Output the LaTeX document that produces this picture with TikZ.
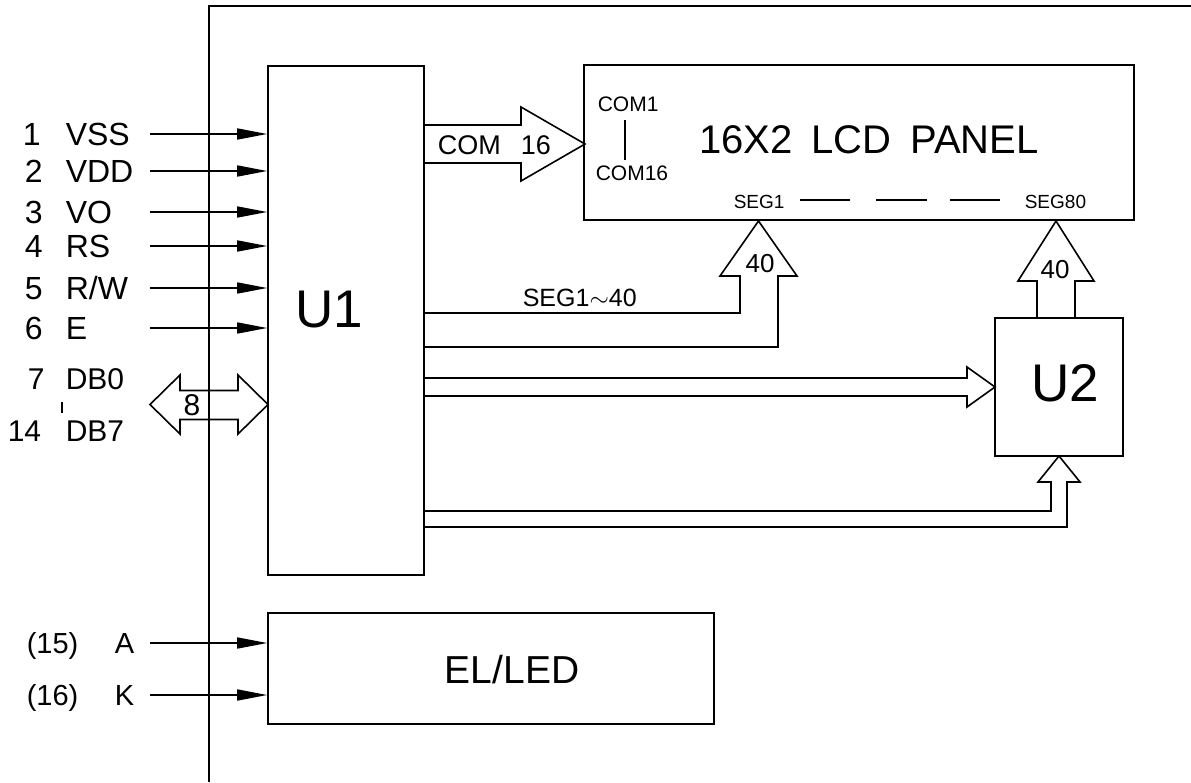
\documentclass[tikz,border=0pt]{standalone}
\usepackage{fontspec}
\setmainfont{Liberation Sans}
\usetikzlibrary{arrows.meta}
\begin{document}
\begin{tikzpicture}[x=1pt,y=-1pt, line width=1.6pt, line join=miter,
  box/.style={draw, inner sep=0pt},
  t/.style={inner sep=0pt, text depth=0pt},
  pinf/.style={t, anchor=west, font=\fontsize{32}{32}\selectfont, text height=23pt},
  dbf/.style={t, anchor=west, font=\fontsize{30}{30}\selectfont, text height=21.5pt},
  elf/.style={t, anchor=west, font=\fontsize{29}{29}\selectfont, text height=21pt},
  comf/.style={t, anchor=west, font=\fontsize{27}{27}\selectfont, text height=19.5pt},
  smallf/.style={t, anchor=west, font=\fontsize{21}{21}\selectfont, text height=15pt},
  segf/.style={t, anchor=west, font=\fontsize{19}{19}\selectfont, text height=13.6pt},
  numf/.style={t, font=\fontsize{26}{26}\selectfont, text height=18.6pt},
  bigf/.style={t, font=\fontsize{53}{53}\selectfont, text height=38pt},
  titlef/.style={t, font=\fontsize{40}{40}\selectfont, text height=28.6pt},
  inarr/.style={-{Triangle[length=30pt,width=11pt]}},
  bus/.style={draw, line width=1.6pt},
  thin/.style={line width=1.4pt}
]
\useasboundingbox (0,0) rectangle (1191,782);

% outer frame
\draw (209,782) -- (209,6) -- (1191,6);

% blocks
\node[box, minimum width=156pt, minimum height=509pt] (U1) at (346,320.5) {};
\node[box, minimum width=550pt, minimum height=155pt] (LCD) at (859,142.5) {};
\node[box, minimum width=128pt, minimum height=138pt] (U2) at (1059,387) {};
\node[box, minimum width=446pt, minimum height=111pt] (EL) at (491,668.5) {};

\node[bigf] (U1t) at (329,308) {U1};
\node[bigf] (U2t) at (1065,382) {U2};
\node[t, font=\fontsize{39}{39}\selectfont, text height=28pt] (ELt) at (512,669) {EL/LED};
\node[titlef] (title) at (869,139) {16X2\hspace{19pt}LCD\hspace{19pt}PANEL};

% input pins
\foreach \n/\y in {1/134,2/171,3/212,4/246,5/288,6/328}{
  \coordinate (p\n) at (150,\y);
  \draw[inarr] (p\n) -- (p\n -| U1.west);
}
\node[pinf] (n1) at (22,134) {1};
\node[pinf] (n2) at (24,171) {2};
\node[pinf] (n3) at (24,212) {3};
\node[pinf] (n4) at (24,246) {4};
\node[pinf] (n5) at (24,288) {5};
\node[pinf] (n6) at (24,328) {6};
\node[pinf] (s1) at (65,134) {VSS};
\node[pinf] (s2) at (65,171) {VDD};
\node[pinf] (s3) at (65,212) {VO};
\node[pinf] (s4) at (65,246) {RS};
\node[pinf] (s5) at (65,288) {R/W};
\node[pinf] (s6) at (65,328) {E};

% data bus
\node[dbf] (n7) at (27,379) {7};
\node[dbf] (s7) at (65,379) {DB0};
\node[dbf] (n14) at (7,431) {14};
\node[dbf] (s14) at (65,431) {DB7};
\coordinate (tk1) at (62,402);
\coordinate (tk2) at (62,413);
\draw[thin] (tk1) -- (tk2);
\draw[bus] (150,404.5) -- (180,375) -- (180,390.5) -- (238,390.5) -- (238,375)
  -- (268,404.5) -- (238,434) -- (238,419.5) -- (180,419.5) -- (180,434) -- cycle;
\node[t, font=\fontsize{30}{30}\selectfont, text height=21.5pt] (eight) at (192,404.5) {8};

% COM bus
\draw[bus] (424,125) -- (521,125) -- (521,107) -- (585,144) -- (521,181) -- (521,163) -- (424,163);
\node[comf] (comt) at (437,145) {COM};
\node[comf] (com16) at (520,145) {16};

% LCD inner labels
\node[smallf] (com1) at (597,104) {COM1};
\node[smallf] (com16b) at (595,173) {COM16};
\coordinate (cb1) at (625,120);
\coordinate (cb2) at (625,160);
\draw[thin] (cb1) -- (cb2);
\node[segf] (seg1) at (733,202) {SEG1};
\node[segf] (seg80) at (1024,202) {SEG80};
\foreach \a/\b in {800/850,876/927,950/1000}{
  \draw[thin] (\a,200) -- (\b,200);
}

% SEG1~40 bus from U1 to LCD
\draw[bus] (424,313) -- (740,313) -- (740,276) -- (720,276) -- (758.5,221) -- (797,276)
  -- (778,276) -- (778,347) -- (424,347);
\node[numf] (f40a) at (760,263) {40};
\node[t, anchor=west, font=\fontsize{25}{25}\selectfont, text height=18pt] (segt) at (522,297) {SEG1$\sim$40};

% U2 to LCD bus
\draw[bus] (1037,318) -- (1037,281) -- (1018,281) -- (1056,221) -- (1094,281) -- (1075,281) -- (1075,318);
\node[numf] (f40b) at (1055,269) {40};

% U1 to U2 bus (right)
\draw[bus] (424,378) -- (967,378) -- (967,367) -- (995,387) -- (967,407) -- (967,396) -- (424,396);

% U1 to U2 bus (bottom)
\draw[bus] (424,511) -- (1051,511) -- (1051,482) -- (1038,482) -- (1059,456) -- (1080,482)
  -- (1067,482) -- (1067,527) -- (424,527);

% backlight
\coordinate (pA) at (150,643);
\coordinate (pK) at (150,695);
\draw[inarr] (pA) -- (pA -| EL.west);
\draw[inarr] (pK) -- (pK -| EL.west);
\node[elf] (n15) at (26,643) {(15)};
\node[elf] (sA) at (114,643) {A};
\node[elf] (n16) at (26,695) {(16)};
\node[elf] (sK) at (114,695) {K};
\end{tikzpicture}
\end{document}
